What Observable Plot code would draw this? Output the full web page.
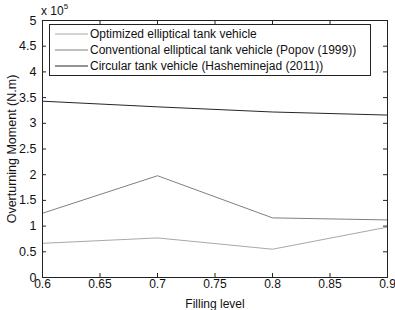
<!DOCTYPE html>
<html>
<head>
<meta charset="utf-8">
<script src="https://cdn.jsdelivr.net/npm/d3@7"></script>
<script src="https://cdn.jsdelivr.net/npm/@observablehq/plot@0.6"></script>
<style>
  body { margin: 0; background: #fff; }
  #wrap { position: relative; width: 395px; height: 310px; font-family: "Liberation Sans", Arial, sans-serif; }
  #legend { position: absolute; left: 49px; top: 24px; width: 322px; height: 52px; border: 1px solid #222; background: #fff; box-sizing: border-box; font-size: 12px; color: #111; }
  #legend .row { position: absolute; left: 5px; height: 16px; display: flex; align-items: center; white-space: nowrap; }
  #legend svg { margin-right: 2px; }
  #mult { position: absolute; left: 41px; top: 3px; font-size: 12px; color: #111; }
  #mult sup { font-size: 8px; position: relative; top: -1px; }
</style>
</head>
<body>
<div id="wrap">
  <div id="chart"></div>
  <div id="mult">x 10<sup>5</sup></div>
  <div id="legend"></div>
</div>
<script>
// Filling levels and overturning moments (x 10^5 N.m)
const fillingLevels = [0.6, 0.7, 0.8, 0.9];
const optimized     = [0.665, 0.77, 0.55, 0.98];
const conventional  = [1.25, 1.98, 1.16, 1.12];
const circular      = [3.43, 3.32, 3.22, 3.16];

const seriesNames = [
  "Optimized elliptical tank vehicle",
  "Conventional elliptical tank vehicle (Popov (1999))",
  "Circular tank vehicle (Hasheminejad (2011))"
];
const seriesColors = ["#a8a8a8", "#808080", "#262626"];
const seriesValues = [optimized, conventional, circular];

const xTicks = [0.6, 0.65, 0.7, 0.75, 0.8, 0.85, 0.9];
const yTicks = [0, 0.5, 1, 1.5, 2, 2.5, 3, 3.5, 4, 4.5, 5];

const rows = seriesValues.flatMap((vals, i) =>
  vals.map((v, j) => ({series: seriesNames[i], x: fillingLevels[j], y: v}))
);

const fmt = d => String(d);
const font = "Liberation Sans, Arial, sans-serif";

// layout
const W = 395, H = 310, mL = 42, mR = 8, mT = 20, mB = 33, tickLen = 4;
const innerW = W - mL - mR, innerH = H - mT - mB;

const chart = Plot.plot({
  width: W,
  height: H,
  marginLeft: mL,
  marginRight: mR,
  marginTop: mT,
  marginBottom: mB,
  style: {fontFamily: font, fontSize: "12px", color: "#111", background: "#fff"},
  x: {domain: [0.6, 0.9]},
  y: {domain: [0, 5]},
  color: {domain: seriesNames, range: seriesColors},
  marks: [
    Plot.line(rows, {x: "x", y: "y", z: "series", stroke: "series", strokeWidth: 1}),
    // inward tick marks on all four sides
    Plot.tickX(xTicks, {x: d => d, insetTop: innerH - tickLen, stroke: "#222"}),
    Plot.tickX(xTicks, {x: d => d, insetBottom: innerH - tickLen, stroke: "#222"}),
    Plot.tickY(yTicks, {y: d => d, insetRight: innerW - tickLen, stroke: "#222"}),
    Plot.tickY(yTicks, {y: d => d, insetLeft: innerW - tickLen, stroke: "#222"}),
    Plot.frame({stroke: "#222"}),
    // tick labels and axis titles
    Plot.axisX(xTicks, {anchor: "bottom", tickSize: 0, tickPadding: 2, tickFormat: fmt,
      label: "Filling level", labelAnchor: "center", labelArrow: "none", labelOffset: 30}),
    Plot.axisY(yTicks, {anchor: "left", tickSize: 0, tickPadding: 6, tickFormat: fmt,
      label: "Overturning Moment (N.m)", labelAnchor: "center", labelArrow: "none", labelOffset: 35,
      fontSize: 12.5})
  ]
});
document.getElementById("chart").appendChild(chart);

// legend box
const legend = document.getElementById("legend");
seriesNames.forEach((name, i) => {
  const row = document.createElement("div");
  row.className = "row";
  row.style.top = (1 + i * 16) + "px";
  row.innerHTML = `<svg width="33" height="10"><line x1="0" y1="5" x2="33" y2="5" stroke="${seriesColors[i]}" stroke-width="1"/></svg><span>${name}</span>`;
  legend.appendChild(row);
});
</script>
</body>
</html>
